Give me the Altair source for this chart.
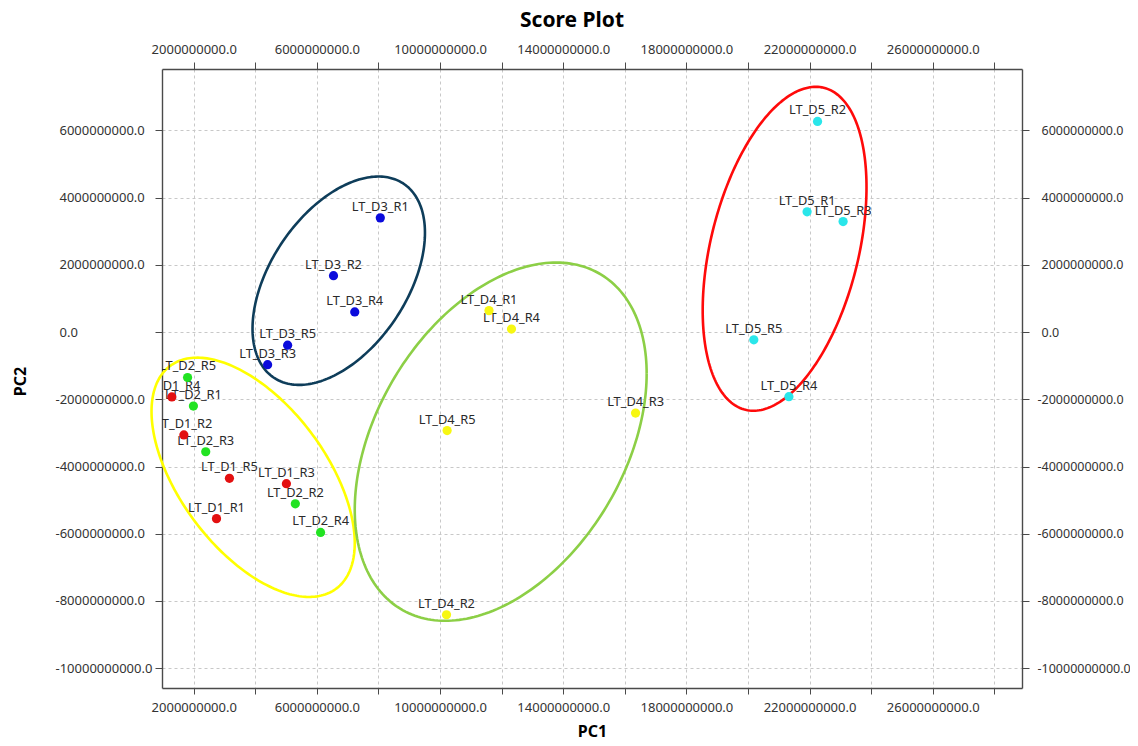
import altair as alt
import numpy as np
import pandas as pd

# ---- data ----
sample_names = [
    "LT_D1_R1", "LT_D1_R2", "LT_D1_R3", "LT_D1_R4", "LT_D1_R5",
    "LT_D2_R1", "LT_D2_R2", "LT_D2_R3", "LT_D2_R4", "LT_D2_R5",
    "LT_D3_R1", "LT_D3_R2", "LT_D3_R3", "LT_D3_R4", "LT_D3_R5",
    "LT_D4_R1", "LT_D4_R2", "LT_D4_R3", "LT_D4_R4", "LT_D4_R5",
    "LT_D5_R1", "LT_D5_R2", "LT_D5_R3", "LT_D5_R4", "LT_D5_R5",
]
pc1 = [
    2.74e9, 1.68e9, 5.01e9, 1.29e9, 3.16e9,
    1.99e9, 5.30e9, 2.39e9, 6.12e9, 1.80e9,
    8.06e9, 6.54e9, 4.40e9, 7.23e9, 5.05e9,
    11.59e9, 10.21e9, 16.35e9, 12.32e9, 10.23e9,
    21.92e9, 22.26e9, 23.09e9, 21.33e9, 20.19e9,
]
pc2 = [
    -5.55e9, -3.06e9, -4.51e9, -1.93e9, -4.35e9,
    -2.20e9, -5.11e9, -3.56e9, -5.96e9, -1.35e9,
    3.40e9, 1.68e9, -0.97e9, 0.60e9, -0.39e9,
    0.64e9, -8.41e9, -2.41e9, 0.09e9, -2.93e9,
    3.58e9, 6.27e9, 3.29e9, -1.92e9, -0.23e9,
]
group_names = ["D1", "D2", "D3", "D4", "D5"]
group_colors = ["#e31010", "#22e322", "#0b0bdc", "#f7f712", "#2ae6ea"]

# confidence ellipses: centre, x-radius, y-radius, correlation
ell_names = ["D1D2", "D3", "D4", "D5"]
ell_cx = [3.93e9, 6.71e9, 11.97e9, 21.19e9]
ell_cy = [-4.32e9, 1.53e9, -3.26e9, 2.48e9]
ell_rx = [3.30e9, 2.80e9, 4.74e9, 2.66e9]
ell_ry = [3.56e9, 3.10e9, 5.33e9, 4.82e9]
ell_rho = [-0.55, 0.46, 0.38, 0.38]
ell_colors = ["#ffff00", "#0e3d5a", "#8ccf46", "#ff0a0a"]

x_ticks = [2e9 * k for k in range(1, 15)]
y_ticks = [2e9 * k for k in range(-5, 4)]
x_domain = [0.97e9, 28.9e9]
y_domain = [-10.59e9, 7.83e9]

# ---- tables ----
color_of = dict(zip(group_names, group_colors))
pts = pd.DataFrame({
    "name": sample_names,
    "pc1": pc1,
    "pc2": pc2,
    "grp": [n.split("_")[1] for n in sample_names],
})
pts["col"] = pts["grp"].map(color_of)

rows = []
t = np.linspace(0, 2 * np.pi, 241)
for g, cx, cy, rx, ry, rho, c in zip(ell_names, ell_cx, ell_cy, ell_rx, ell_ry, ell_rho, ell_colors):
    ex = cx + rx * np.cos(t)
    ey = cy + ry * (rho * np.cos(t) + np.sqrt(1 - rho ** 2) * np.sin(t))
    for i in range(len(t)):
        rows.append({"g": g, "i": i, "ex": ex[i], "ey": ey[i], "c": c})
ell = pd.DataFrame(rows)

xscale = alt.Scale(domain=x_domain, nice=False, zero=False)
yscale = alt.Scale(domain=y_domain, nice=False, zero=False)

x_label_expr = "round(datum.value / 2e9) % 2 == 1 ? format(datum.value, '.1f') : ''"
y_label_expr = "datum.value < 0 ? '-' + format(-datum.value, '.1f') : format(datum.value, '.1f')"

axis_common = dict(
    labelFlush=False, labelOverlap=False,
    labelFont="Noto Sans", labelColor="#333333",
    titleFont="Noto Sans", titleFontSize=16, titleFontWeight="bold", titleColor="#000000",
    domainColor="#4a4a4a", domainWidth=1.4, tickColor="#4a4a4a", tickWidth=1,
    gridColor="#c8c8c8", gridDash=[3, 3], gridWidth=1,
)

bottom_axis = alt.Axis(
    orient="bottom", values=x_ticks, labelExpr=x_label_expr, tickSize=6,
    labelFontSize=13, labelPadding=7, grid=True, title="PC1", titleX=430, titleY=43,
    titleBaseline="middle", titleAlign="center", **axis_common)
top_axis = alt.Axis(
    orient="top", values=x_ticks, labelExpr=x_label_expr, tickSize=7,
    labelFontSize=13, labelPadding=6, grid=False, title=None, **axis_common)
left_axis = alt.Axis(
    orient="left", values=y_ticks, labelExpr=y_label_expr, tickSize=7,
    labelFontSize=13, labelAlign="left",
    labelPadding={"condition": {"test": "datum.value < 0", "value": 100}, "value": 96},
    grid=True, title="PC2", titleX=-142, titleY=312, titleAngle=270,
    titleBaseline="middle", titleAlign="center", **axis_common)
right_axis = alt.Axis(
    orient="right", values=y_ticks, labelExpr=y_label_expr, tickSize=7,
    labelFontSize=12.5, labelAlign="left",
    labelPadding={"condition": {"test": "datum.value < 0", "value": 8}, "value": 12},
    grid=False, title=None, **axis_common)

ellipses = alt.Chart(ell).mark_line(strokeWidth=2.6).encode(
    x=alt.X("ex:Q", scale=xscale, axis=top_axis),
    y=alt.Y("ey:Q", scale=yscale, axis=right_axis),
    detail="g:N",
    order="i:Q",
    color=alt.Color("c:N", scale=None),
)

texts = alt.Chart(pts).mark_text(
    font="Noto Sans", fontSize=12.8, color="#2a2a2a", dy=-11,
    baseline="middle", align="center", clip=True,
).encode(
    x=alt.X("pc1:Q", scale=xscale, axis=None),
    y=alt.Y("pc2:Q", scale=yscale, axis=None),
    text="name:N",
)

points = alt.Chart(pts).mark_circle(size=85, opacity=1).encode(
    x=alt.X("pc1:Q", scale=xscale, axis=bottom_axis),
    y=alt.Y("pc2:Q", scale=yscale, axis=left_axis),
    color=alt.Color("col:N", scale=None),
)

chart = alt.layer(ellipses, texts, points).resolve_axis(
    x="independent", y="independent"
).properties(
    width=860,
    height=619,
    background="white",
    autosize=alt.AutoSizeParams(type="none"),
    padding={"left": 154, "top": 61, "right": 108, "bottom": 50},
    title=alt.TitleParams(
        "Score Plot", font="Noto Sans", fontSize=21, fontWeight="bold",
        color="#000000", anchor="middle", dx=-20, offset=12),
).configure_view(stroke=None)

chart.save("out.html", embed_options={"renderer": "svg", "actions": False})
